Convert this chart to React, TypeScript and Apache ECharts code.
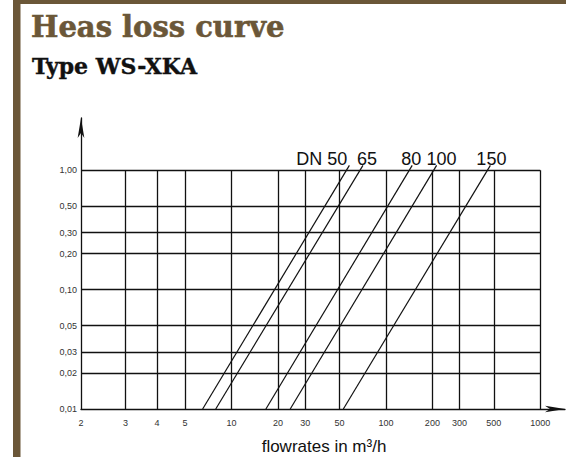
import React, { useEffect, useRef } from "react";
import * as echarts from "echarts";

// ---- data ----
const xTickValues = [2, 3, 4, 5, 10, 20, 30, 50, 100, 200, 300, 500, 1000];
const yTickValues = [0.01, 0.02, 0.03, 0.05, 0.1, 0.2, 0.3, 0.5, 1];
const dnNames = ["DN 50", "65", "80", "100", "150"];
const lowLoss = 0.01; // loss where each DN line starts
const highLoss = 1.1; // loss where each DN line ends
const flowAtLowLoss = [6.5, 7.9, 16.7, 24, 53]; // m³/h
const flowAtHighLoss = [58, 71, 148, 213, 475]; // m³/h

// ---- scale of the drawing ----
// Flow axis is logarithmic from 5 m³/h upward; below 5 the drawing compresses the ticks.
const LOW_FLOW_ANCHORS: [number, number][] = [
  [2, 0.025],
  [3, 0.314],
  [4, 0.517],
  [5, Math.log10(5)],
];
function xUnit(f: number): number {
  if (f >= 5) return Math.log10(f);
  for (let i = 0; i < LOW_FLOW_ANCHORS.length - 1; i++) {
    const [a, ua] = LOW_FLOW_ANCHORS[i];
    const [b, ub] = LOW_FLOW_ANCHORS[i + 1];
    if (f <= b) return ua + ((f - a) / (b - a)) * (ub - ua);
  }
  return LOW_FLOW_ANCHORS[0][1];
}
const yUnit = (v: number) => Math.log10(v);

const BROWN = "#6b5738";
const INK = "#111111";
const SANS = "Liberation Sans, Arial, sans-serif";

export default function App() {
  const ref = useRef<HTMLDivElement>(null);

  useEffect(() => {
    if (!ref.current) return;
    const chart = echarts.init(ref.current, undefined, { renderer: "svg" });

    const xMin = xUnit(xTickValues[0]);
    const xMax = 3.16;
    const yMin = yUnit(yTickValues[0]);
    const yMax = 0.438;
    const xGridEnd = xUnit(xTickValues[xTickValues.length - 1]);
    const yGridEnd = yUnit(yTickValues[yTickValues.length - 1]);

    const gridLines: any[] = [];
    xTickValues.slice(1).forEach((t) => {
      gridLines.push([{ coord: [xUnit(t), yMin] }, { coord: [xUnit(t), yGridEnd] }]);
    });
    yTickValues.slice(1).forEach((t) => {
      gridLines.push([{ coord: [xMin, yUnit(t)] }, { coord: [xGridEnd, yUnit(t)] }]);
    });

    const labelNudge: [number, number][] = [
      [-2, 3],
      [4, 3],
      [-1, 3],
      [5, 3],
      [1, 3],
    ];

    const series: any[] = dnNames.map((name, i) => ({
      type: "line",
      name,
      symbol: "circle",
      symbolSize: 1,
      showSymbol: true,
      silent: true,
      itemStyle: { color: "transparent", borderWidth: 0 },
      lineStyle: { color: INK, width: 1.2 },
      emphasis: { disabled: true },
      data: [
        { value: [xUnit(flowAtLowLoss[i]), yUnit(lowLoss)], label: { show: false } },
        {
          value: [xUnit(flowAtHighLoss[i]), yUnit(highLoss)],
          label: {
            show: true,
            position: "top",
            distance: 0,
            offset: labelNudge[i],
            align: i === 0 ? "right" : "center",
            formatter: name,
            fontFamily: SANS,
            fontSize: 18,
            color: INK,
          },
        },
      ],
      ...(i === 0
        ? {
            markLine: {
              silent: true,
              symbol: ["none", "none"],
              label: { show: false },
              lineStyle: { type: "solid", color: INK, width: 1.3 },
              emphasis: { disabled: true },
              data: gridLines,
            },
          }
        : {}),
    }));

    chart.setOption({
      animation: false,
      backgroundColor: "#ffffff",
      title: [
        {
          text: "Heas loss curve",
          left: 31,
          top: 12,
          padding: 0,
          textStyle: {
            fontFamily: "DejaVu Serif",
            fontWeight: "bold",
            fontSize: 29,
            color: BROWN,
            textBorderColor: BROWN,
            textBorderWidth: 0.6,
          },
        },
        {
          text: "Type WS-XKA",
          left: 32,
          top: 55,
          padding: 0,
          textStyle: {
            fontFamily: "DejaVu Serif",
            fontWeight: "bold",
            fontSize: 22,
            color: INK,
            textBorderColor: INK,
            textBorderWidth: 0.4,
          },
        },
      ],
      graphic: [
        { type: "rect", shape: { x: 13, y: 0, width: 7.5, height: 457 }, style: { fill: BROWN } },
        { type: "rect", shape: { x: 13, y: 0, width: 553, height: 4 }, style: { fill: BROWN } },
      ],
      grid: {
        left: 81,
        right: 1,
        top: 118,
        bottom: 48,
        containLabel: false,
        outerBoundsMode: "none",
      },
      xAxis: {
        type: "value",
        min: xMin,
        max: xMax,
        name: "flowrates in m³/h",
        nameLocation: "middle",
        nameGap: 29,
        nameTextStyle: {
          fontFamily: SANS,
          fontSize: 17,
          color: INK,
          padding: [0, 0, 0, 2],
        },
        axisLine: {
          show: true,
          onZero: false,
          symbol: ["none", "arrow"],
          symbolSize: [5, 20],
          lineStyle: { color: INK, width: 1.3 },
        },
        axisTick: { show: false },
        splitLine: { show: false },
        axisLabel: {
          customValues: xTickValues.map(xUnit),
          margin: 9,
          fontFamily: SANS,
          fontSize: 9,
          color: "#333",
          formatter: (v: number) => {
            const t = xTickValues.find((tv) => Math.abs(xUnit(tv) - v) < 1e-6);
            return t === undefined ? "" : String(t);
          },
        },
      },
      yAxis: {
        type: "value",
        min: yMin,
        max: yMax,
        axisLine: {
          show: true,
          onZero: false,
          symbol: ["none", "arrow"],
          symbolSize: [5, 20],
          lineStyle: { color: INK, width: 1.3 },
        },
        axisTick: { show: false },
        splitLine: { show: false },
        axisLabel: {
          customValues: yTickValues.map(yUnit),
          margin: 4,
          fontFamily: SANS,
          fontSize: 9,
          color: "#333",
          formatter: (v: number) => Math.pow(10, v).toFixed(2).replace(".", ","),
        },
      },
      series,
    });

    return () => chart.dispose();
  }, []);

  return (
    <div
      ref={ref}
      style={{ position: "absolute", left: 0, top: 0, width: 566, height: 457, background: "#fff" }}
    />
  );
}
